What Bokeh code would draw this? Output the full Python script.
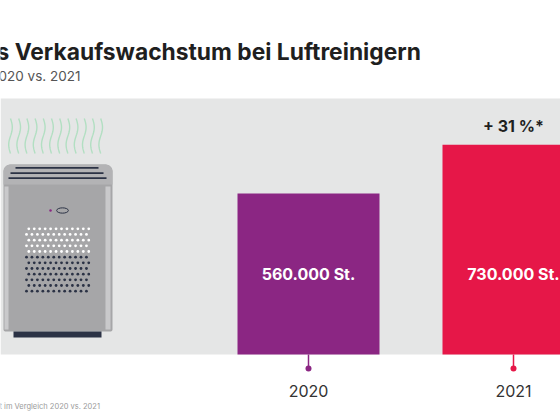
import numpy as np
from bokeh.plotting import figure
from bokeh.models import Range1d
from bokeh.core.properties import value
from bokeh.embed import file_html
from bokeh.resources import INLINE

# --- data ---
years = ["2020", "2021"]
units_sold = [560000, 730000]
bar_colors = ["#8b2683", "#e61748"]
growth_label = "+ 31 %*"
title = "s Verkaufswachstum bei Luftreinigern"
subtitle = "020 vs. 2021"
footnote = "t im Vergleich 2020 vs. 2021"

# --- layout (measured in pixels of the 560x420 picture) ---
W, H = 560, 420
X0_PX, X_STEP = 308, 205      # centre of first bar, distance between bars
BASE_PX = 354                 # baseline of the bars
PER_PX = 3480                 # units per pixel


def xs(px):
    return (px - X0_PX) / X_STEP


def ys(py):
    return (BASE_PX - py) * PER_PX


def fmt(v):
    return f"{v:,}".replace(",", ".") + " St."


p = figure(
    width=W, height=H,
    x_range=Range1d(xs(0), xs(W)),
    y_range=Range1d(ys(H), ys(0)),
    toolbar_location=None, output_backend="svg",
    min_border=0,
)
p.axis.visible = False
p.grid.visible = False
p.outline_line_color = None
p.background_fill_color = "white"
p.border_fill_color = "white"

# --- grey band behind the chart ---
p.quad(left=xs(0), right=xs(W), bottom=0, top=ys(98),
       fill_color="#e5e6e6", line_color=None)

# --- titles ---
p.text(x=[xs(-4)], y=[ys(51)], text=[title], text_font=value("Inter"),
       text_font_style="bold", text_font_size="22.8px", text_color="#1f1f1f",
       text_baseline="alphabetic", text_align="left")
p.text(x=[xs(-2)], y=[ys(75)], text=[subtitle], text_font=value("Inter"),
       text_font_size="13.5px", text_color="#555555",
       text_baseline="alphabetic", text_align="left")


# --- air purifier illustration ---
def rounded_rect(x0, y0, x1, y1, rt, rb):
    # corners: top-right, top-left, bottom-left, bottom-right
    corners = [(x1 - rt, y0 + rt, rt, 0, 90), (x0 + rt, y0 + rt, rt, 90, 180),
               (x0 + rb, y1 - rb, rb, 180, 270), (x1 - rb, y1 - rb, rb, 270, 360)]
    px_, py_ = [], []
    for cx, cy, r, a0, a1 in corners:
        for a in np.radians(np.linspace(a0, a1, 8)):
            px_.append(xs(cx + r * np.cos(a)))
            py_.append(ys(cy - r * np.sin(a)))
    return px_, py_


t = np.linspace(0, 1, 30)
wave_x, wave_y = [], []
for i in range(12):
    cx = 10 + 8.2 * i
    wave_x.append([xs(cx + 1.8 * np.sin(2 * np.pi * tt)) for tt in t])
    wave_y.append([ys(118 + 35 * tt) for tt in t])
p.multi_line(xs=wave_x, ys=wave_y, line_color="#b2dfc2", line_width=1.4)

bx, by = rounded_rect(3, 164, 112, 331, 7, 2)
p.patch(bx, by, fill_color="#a6a6a8", line_color=None)
tx, ty = rounded_rect(3, 164, 112, 184, 7, 0.1)
p.patch(tx, ty, fill_color="#b3b3b5", line_color=None)
p.quad(left=[xs(4), xs(105)], right=[xs(8), xs(110)],
       bottom=[ys(329), ys(329)], top=[ys(186), ys(186)],
       fill_color="#c9c9cb", line_color=None)
p.segment(x0=[xs(15), xs(10), xs(8)], x1=[xs(98), xs(103), xs(106)],
          y0=[ys(167.3), ys(172.7), ys(177.7)], y1=[ys(167.3), ys(172.7), ys(177.7)],
          line_color="#2b3245", line_width=1.8)
p.ellipse(x=[xs(62)], y=[ys(210)], width=11.7 / X_STEP, height=5.3 * PER_PX,
          fill_color=None, line_color="#2b3245", line_width=1)
p.scatter(x=[xs(50)], y=[ys(210)], size=2.5, fill_color="#8b2683", line_color=None)

dot_x, dot_y, dot_c = [], [], []
for r in range(12):
    row_y = 228.3 + 5.67 * r
    start = 28.3 if r % 2 == 0 else 26
    for c in range(12):
        dot_x.append(xs(start + 5.45 * c))
        dot_y.append(ys(row_y))
        dot_c.append("#ffffff" if r < 5 else "#2b3245")
p.scatter(x=dot_x, y=dot_y, size=2.8, fill_color=dot_c, line_color=None)
p.quad(left=xs(13), right=xs(101), bottom=ys(337), top=ys(331),
       fill_color="#2b3245", line_color=None)

# --- bars ---
idx = list(range(len(years)))
p.vbar(x=idx, width=142 / X_STEP, top=units_sold, bottom=0,
       fill_color=bar_colors, line_color=None)

p.text(x=idx, y=[min(units_sold) / 2] * len(idx), text=[fmt(v) for v in units_sold],
       text_font=value("Inter"), text_font_style="bold", text_font_size="16px",
       text_color="white", text_align="center", text_baseline="middle")

p.text(x=[idx[-1]], y=[units_sold[-1] + 19 * PER_PX], text=[growth_label],
       text_font=value("Inter"), text_font_style="bold", text_font_size="16px",
       text_color="#1f1f1f", text_align="center", text_baseline="middle")

# --- category ticks with dots ---
p.segment(x0=idx, x1=idx, y0=[0] * len(idx), y1=[ys(368)] * len(idx),
          line_color=bar_colors, line_width=1.5)
p.scatter(x=idx, y=[ys(368)] * len(idx), size=6, fill_color=bar_colors, line_color=None)
p.text(x=idx, y=[ys(390)] * len(idx), text=years, text_font=value("Inter"),
       text_font_size="16px", text_color="#333333",
       text_align="center", text_baseline="middle")

# --- footnote ---
p.text(x=[xs(-1)], y=[ys(406)], text=[footnote], text_font=value("Inter"),
       text_font_size="7.5px", text_color="#9a9a9a",
       text_align="left", text_baseline="middle")

open("out.html", "w").write(file_html(p, INLINE))
